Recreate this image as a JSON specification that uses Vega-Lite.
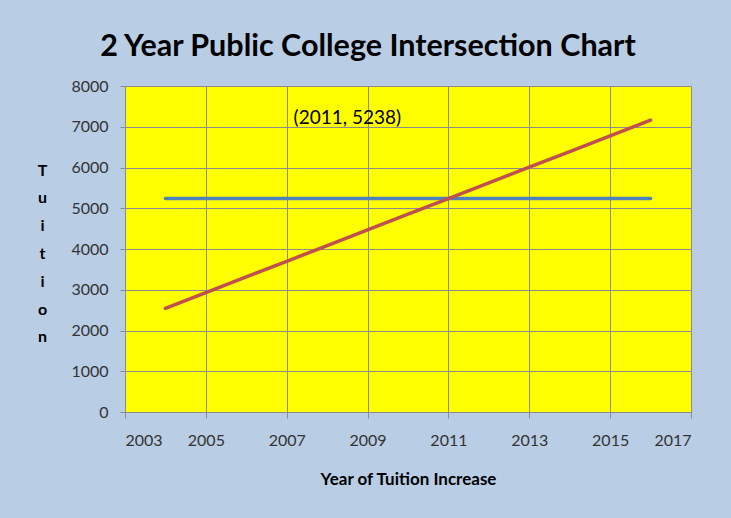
{
  "$schema": "https://vega.github.io/schema/vega-lite/v6.json",
  "width": 566,
  "height": 326,
  "autosize": {"type": "none"},
  "padding": {"left": 125, "top": 86, "right": 40, "bottom": 106},
  "background": "#b9cde5",
  "title": {
    "text": "2 Year Public College Intersection Chart",
    "font": "Lato",
    "fontSize": 30.5,
    "fontWeight": "bold",
    "color": "#000000",
    "anchor": "middle",
    "frame": "group",
    "dx": -40,
    "baseline": "alphabetic",
    "offset": -8
  },
  "config": {
    "view": {"fill": "#ffff00", "stroke": null},
    "font": "Lato",
    "axis": {
      "gridColor": "#8c8c8c",
      "gridWidth": 1,
      "gridOpacity": 1,
      "domainColor": "#8c8c8c",
      "tickColor": "#8c8c8c",
      "labelFont": "Lato",
      "labelFontSize": 16,
      "labelColor": "#333333",
      "titleFont": "Lato",
      "titleFontSize": 16,
      "titleFontWeight": "bold",
      "titleColor": "#000000"
    }
  },
  "datasets": {
    "lines": [
      {"year": 2004, "tuition": 5238, "series": "Flat"},
      {"year": 2016, "tuition": 5238, "series": "Flat"},
      {"year": 2004, "tuition": 2545, "series": "Rising"},
      {"year": 2005, "tuition": 2930, "series": "Rising"},
      {"year": 2006, "tuition": 3314, "series": "Rising"},
      {"year": 2007, "tuition": 3699, "series": "Rising"},
      {"year": 2008, "tuition": 4084, "series": "Rising"},
      {"year": 2009, "tuition": 4468, "series": "Rising"},
      {"year": 2010, "tuition": 4853, "series": "Rising"},
      {"year": 2011, "tuition": 5238, "series": "Rising"},
      {"year": 2012, "tuition": 5623, "series": "Rising"},
      {"year": 2013, "tuition": 6007, "series": "Rising"},
      {"year": 2014, "tuition": 6392, "series": "Rising"},
      {"year": 2015, "tuition": 6777, "series": "Rising"},
      {"year": 2016, "tuition": 7161, "series": "Rising"}
    ],
    "note": [
      {"year": 2008.5, "tuition": 7215, "label": "(2011, 5238)"}
    ]
  },
  "layer": [
    {
      "data": {"name": "lines"},
      "mark": {"type": "line", "strokeWidth": 3.5, "strokeCap": "round"},
      "encoding": {
        "x": {
          "field": "year",
          "type": "quantitative",
          "scale": {"domain": [2003, 2017], "nice": false, "zero": false},
          "axis": {
            "title": "Year of Tuition Increase",
            "titleFontSize": 17,
            "values": [2003, 2005, 2007, 2009, 2011, 2013, 2015, 2017],
            "format": "d",
            "tickSize": 6,
            "labelPadding": 14,
            "titlePadding": 23
          }
        },
        "y": {
          "field": "tuition",
          "type": "quantitative",
          "scale": {"domain": [0, 8000], "nice": false},
          "axis": {
            "title": ["T", "u", "i", "t", "i", "o", "n"],
            "values": [0, 1000, 2000, 3000, 4000, 5000, 6000, 7000, 8000],
            "format": "d",
            "tickSize": 5,
            "labelPadding": 12,
            "titleAngle": 0,
            "titleAlign": "center",
            "titleBaseline": "middle",
            "titleLineHeight": 27.8,
            "titleX": -83,
            "titleY": 84
          }
        },
        "color": {
          "field": "series",
          "type": "nominal",
          "scale": {"domain": ["Flat", "Rising"], "range": ["#4f81bd", "#c0504d"]},
          "legend": null
        }
      }
    },
    {
      "data": {"name": "note"},
      "mark": {"type": "text", "font": "Lato", "fontSize": 19, "color": "#000000", "align": "center", "baseline": "middle"},
      "encoding": {
        "x": {"field": "year", "type": "quantitative"},
        "y": {"field": "tuition", "type": "quantitative"},
        "text": {"field": "label"}
      }
    }
  ]
}
